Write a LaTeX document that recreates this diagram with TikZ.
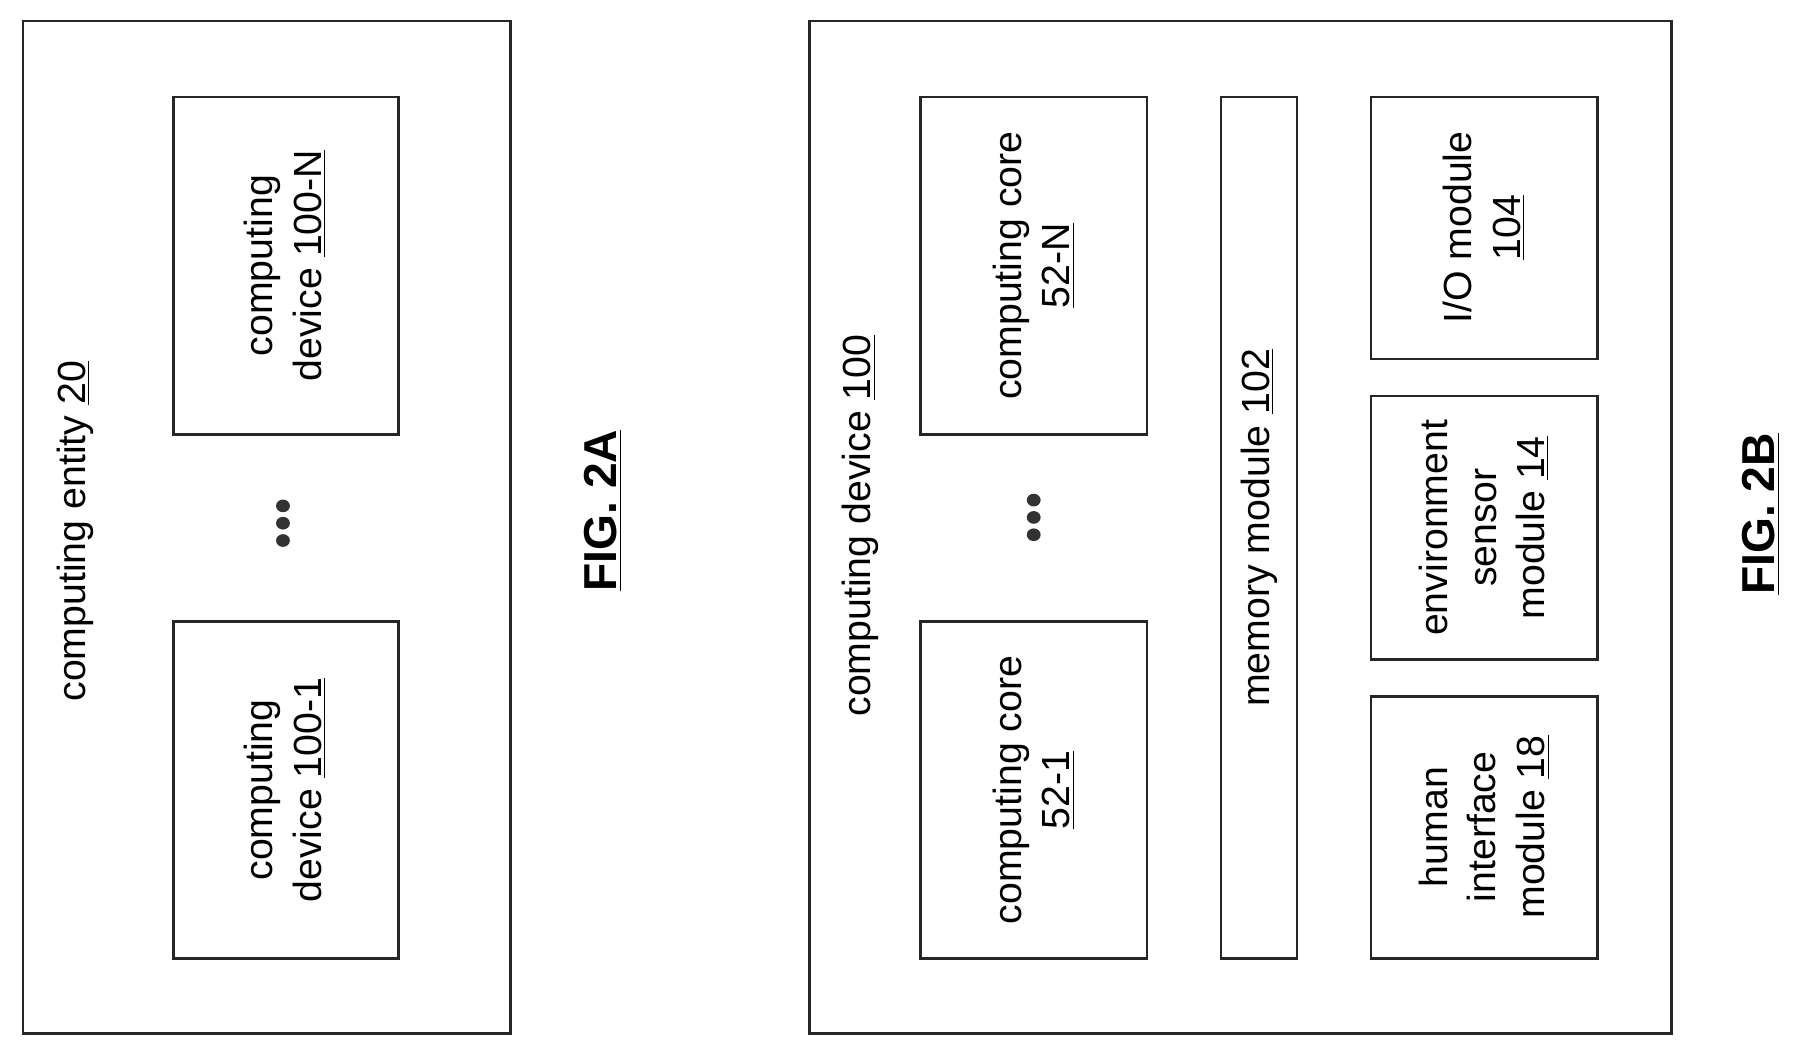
\documentclass[tikz,border=0pt]{standalone}
\usepackage{fontspec}
\setmainfont{Liberation Sans}
\begin{document}
\begin{tikzpicture}[x=0.5pt,y=-0.5pt,
  box/.style={draw=black!85,line width=1.1pt},
  lbl/.style={rotate=90,align=center,font=\fontsize{17}{21}\selectfont,inner sep=0pt},
  fig/.style={rotate=90,font=\fontsize{20}{24}\selectfont\bfseries,inner sep=0pt},
  dot/.style={fill=black!80,draw=none}]
\useasboundingbox (0,0) rectangle (1568,915);
% FIG 2A
\draw[box] (20,18) rectangle (442,895);
\node[lbl] (ent) at (65,460) {computing entity \underline{20}};
\draw[box] (150,84) rectangle (345,376);
\node[lbl] (cdN) at (247,230) {computing\\device \underline{100-N}};
\draw[box] (150,538) rectangle (345,830);
\node[lbl] (cd1) at (247,684) {computing\\device \underline{100-1}};
\foreach \yy in {438,453,468} \fill[dot] (245,\yy) ellipse (6 and 5.5);
\node[fig] (f2a) at (522,442) {\underline{FIG. 2A}};
% FIG 2B
\draw[box] (701,18) rectangle (1447,895);
\node[lbl] (dev) at (745,455) {computing device \underline{100}};
\draw[box] (797,84) rectangle (993,376);
\node[lbl] (ccN) at (895,230) {computing core\\\underline{52-N}};
\draw[box] (797,538) rectangle (993,830);
\node[lbl] (cc1) at (895,684) {computing core\\\underline{52-1}};
\foreach \yy in {433,448,463} \fill[dot] (895,\yy) ellipse (6 and 5.5);
\draw[box] (1057,84) rectangle (1123,830);
\node[lbl] (mem) at (1090,457) {memory module \underline{102}};
\draw[box] (1187,84) rectangle (1383,311);
\node[lbl] (io) at (1285,197) {I/O module\\\underline{104}};
\draw[box] (1187,343) rectangle (1383,571);
\node[lbl] (env) at (1285,457) {environment\\sensor\\module \underline{14}};
\draw[box] (1187,603) rectangle (1383,830);
\node[lbl] (hum) at (1285,716) {human\\interface\\module \underline{18}};
\node[fig] (f2b) at (1525,445) {\underline{FIG. 2B}};
\end{tikzpicture}
\end{document}
